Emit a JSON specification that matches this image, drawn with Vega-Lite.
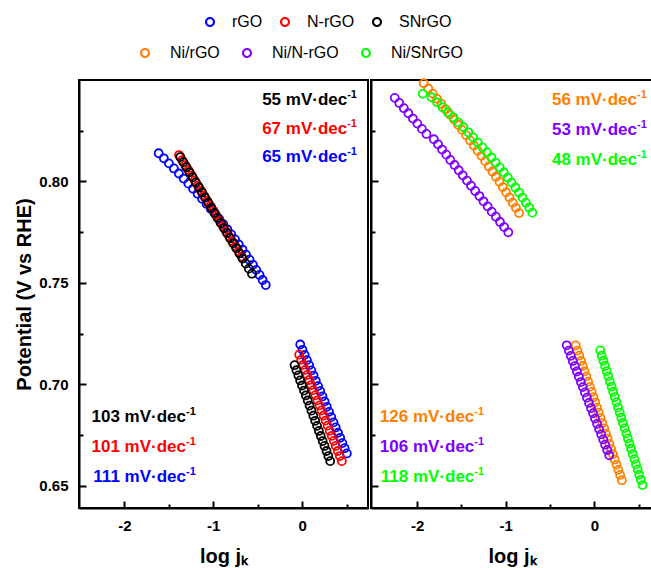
{
  "$schema": "https://vega.github.io/schema/vega-lite/v6.json",
  "background": "white",
  "padding": {"left": 13, "top": 14, "right": 0, "bottom": 0},
  "spacing": 0,
  "config": {
    "font": "Liberation Sans",
    "view": {"stroke": "black", "strokeWidth": 2},
    "axis": {
      "domainColor": "black", "domainWidth": 2, "tickColor": "black", "tickWidth": 2, "grid": false,
      "labelFont": "Liberation Sans", "labelFontWeight": "bold", "labelFontSize": 15, "labelColor": "black",
      "titleFont": "Liberation Sans", "titleFontWeight": "bold", "titleFontSize": 20, "titleColor": "black"
    },
    "legend": {
      "orient": "none", "direction": "horizontal", "title": null,
      "labelFont": "Liberation Sans", "labelFontSize": 16, "labelColor": "black",
      "symbolType": "M -1 0 A 1 1 0 1 0 1 0 A 1 1 0 1 0 -1 0 Z M -0.58 0 A 0.58 0.58 0 1 1 0.58 0 A 0.58 0.58 0 1 1 -0.58 0 Z",
      "symbolSize": 100, "symbolStrokeWidth": 0,
      "padding": 0
    }
  },
  "datasets": {
    "left": [
      {"s":"rGO","x":-1.614,"y":0.8139},{"s":"rGO","x":-1.556,"y":0.8114},{"s":"rGO","x":-1.499,"y":0.8089},{"s":"rGO","x":-1.443,"y":0.8064},{"s":"rGO","x":-1.387,"y":0.8039},{"s":"rGO","x":-1.333,"y":0.8014},{"s":"rGO","x":-1.280,"y":0.7989},{"s":"rGO","x":-1.227,"y":0.7964},{"s":"rGO","x":-1.176,"y":0.7939},{"s":"rGO","x":-1.125,"y":0.7914},{"s":"rGO","x":-1.075,"y":0.7889},{"s":"rGO","x":-1.027,"y":0.7864},{"s":"rGO","x":-0.979,"y":0.7839},{"s":"rGO","x":-0.932,"y":0.7814},{"s":"rGO","x":-0.887,"y":0.7789},{"s":"rGO","x":-0.842,"y":0.7764},{"s":"rGO","x":-0.798,"y":0.7739},{"s":"rGO","x":-0.755,"y":0.7714},{"s":"rGO","x":-0.713,"y":0.7689},{"s":"rGO","x":-0.672,"y":0.7664},{"s":"rGO","x":-0.632,"y":0.7639},{"s":"rGO","x":-0.592,"y":0.7614},{"s":"rGO","x":-0.554,"y":0.7589},{"s":"rGO","x":-0.517,"y":0.7564},{"s":"rGO","x":-0.480,"y":0.7539},{"s":"rGO","x":-0.445,"y":0.7514},{"s":"rGO","x":-0.410,"y":0.7489},
      {"s":"rGO","x":-0.022,"y":0.7196},{"s":"rGO","x":0.003,"y":0.7170},{"s":"rGO","x":0.028,"y":0.7145},{"s":"rGO","x":0.053,"y":0.7119},{"s":"rGO","x":0.078,"y":0.7094},{"s":"rGO","x":0.103,"y":0.7068},{"s":"rGO","x":0.128,"y":0.7043},{"s":"rGO","x":0.153,"y":0.7017},{"s":"rGO","x":0.178,"y":0.6991},{"s":"rGO","x":0.203,"y":0.6966},{"s":"rGO","x":0.228,"y":0.6940},{"s":"rGO","x":0.252,"y":0.6915},{"s":"rGO","x":0.277,"y":0.6889},{"s":"rGO","x":0.302,"y":0.6864},{"s":"rGO","x":0.327,"y":0.6838},{"s":"rGO","x":0.352,"y":0.6812},{"s":"rGO","x":0.377,"y":0.6787},{"s":"rGO","x":0.402,"y":0.6761},{"s":"rGO","x":0.427,"y":0.6736},{"s":"rGO","x":0.452,"y":0.6710},{"s":"rGO","x":0.477,"y":0.6685},{"s":"rGO","x":0.502,"y":0.6659},
      {"s":"N-rGO","x":-1.385,"y":0.8130},{"s":"N-rGO","x":-1.350,"y":0.8105},{"s":"N-rGO","x":-1.315,"y":0.8080},{"s":"N-rGO","x":-1.279,"y":0.8055},{"s":"N-rGO","x":-1.244,"y":0.8030},{"s":"N-rGO","x":-1.209,"y":0.8005},{"s":"N-rGO","x":-1.174,"y":0.7980},{"s":"N-rGO","x":-1.139,"y":0.7955},{"s":"N-rGO","x":-1.103,"y":0.7930},{"s":"N-rGO","x":-1.068,"y":0.7905},{"s":"N-rGO","x":-1.033,"y":0.7880},{"s":"N-rGO","x":-0.998,"y":0.7855},{"s":"N-rGO","x":-0.963,"y":0.7830},{"s":"N-rGO","x":-0.927,"y":0.7805},{"s":"N-rGO","x":-0.892,"y":0.7780},{"s":"N-rGO","x":-0.857,"y":0.7755},{"s":"N-rGO","x":-0.822,"y":0.7730},{"s":"N-rGO","x":-0.787,"y":0.7705},{"s":"N-rGO","x":-0.751,"y":0.7680},{"s":"N-rGO","x":-0.716,"y":0.7655},{"s":"N-rGO","x":-0.681,"y":0.7630},
      {"s":"N-rGO","x":-0.034,"y":0.7146},{"s":"N-rGO","x":-0.011,"y":0.7121},{"s":"N-rGO","x":0.012,"y":0.7096},{"s":"N-rGO","x":0.035,"y":0.7071},{"s":"N-rGO","x":0.057,"y":0.7046},{"s":"N-rGO","x":0.080,"y":0.7021},{"s":"N-rGO","x":0.103,"y":0.6996},{"s":"N-rGO","x":0.126,"y":0.6971},{"s":"N-rGO","x":0.149,"y":0.6946},{"s":"N-rGO","x":0.172,"y":0.6921},{"s":"N-rGO","x":0.195,"y":0.6896},{"s":"N-rGO","x":0.217,"y":0.6871},{"s":"N-rGO","x":0.240,"y":0.6846},{"s":"N-rGO","x":0.263,"y":0.6821},{"s":"N-rGO","x":0.286,"y":0.6796},{"s":"N-rGO","x":0.309,"y":0.6771},{"s":"N-rGO","x":0.332,"y":0.6746},{"s":"N-rGO","x":0.355,"y":0.6721},{"s":"N-rGO","x":0.377,"y":0.6696},{"s":"N-rGO","x":0.400,"y":0.6671},{"s":"N-rGO","x":0.423,"y":0.6646},{"s":"N-rGO","x":0.446,"y":0.6621},
      {"s":"SNrGO","x":-1.371,"y":0.8120},{"s":"SNrGO","x":-1.336,"y":0.8095},{"s":"SNrGO","x":-1.301,"y":0.8070},{"s":"SNrGO","x":-1.266,"y":0.8045},{"s":"SNrGO","x":-1.231,"y":0.8020},{"s":"SNrGO","x":-1.196,"y":0.7995},{"s":"SNrGO","x":-1.161,"y":0.7970},{"s":"SNrGO","x":-1.126,"y":0.7945},{"s":"SNrGO","x":-1.091,"y":0.7920},{"s":"SNrGO","x":-1.056,"y":0.7895},{"s":"SNrGO","x":-1.021,"y":0.7870},{"s":"SNrGO","x":-0.986,"y":0.7845},{"s":"SNrGO","x":-0.951,"y":0.7820},{"s":"SNrGO","x":-0.916,"y":0.7795},{"s":"SNrGO","x":-0.880,"y":0.7770},{"s":"SNrGO","x":-0.845,"y":0.7745},{"s":"SNrGO","x":-0.810,"y":0.7720},{"s":"SNrGO","x":-0.775,"y":0.7695},{"s":"SNrGO","x":-0.740,"y":0.7670},{"s":"SNrGO","x":-0.705,"y":0.7645},{"s":"SNrGO","x":-0.670,"y":0.7620},{"s":"SNrGO","x":-0.635,"y":0.7595},{"s":"SNrGO","x":-0.600,"y":0.7570},{"s":"SNrGO","x":-0.565,"y":0.7545},
      {"s":"SNrGO","x":-0.086,"y":0.7094},{"s":"SNrGO","x":-0.065,"y":0.7069},{"s":"SNrGO","x":-0.044,"y":0.7044},{"s":"SNrGO","x":-0.023,"y":0.7019},{"s":"SNrGO","x":-0.002,"y":0.6994},{"s":"SNrGO","x":0.020,"y":0.6969},{"s":"SNrGO","x":0.041,"y":0.6945},{"s":"SNrGO","x":0.062,"y":0.6920},{"s":"SNrGO","x":0.083,"y":0.6895},{"s":"SNrGO","x":0.104,"y":0.6870},{"s":"SNrGO","x":0.125,"y":0.6845},{"s":"SNrGO","x":0.146,"y":0.6820},{"s":"SNrGO","x":0.167,"y":0.6795},{"s":"SNrGO","x":0.188,"y":0.6770},{"s":"SNrGO","x":0.209,"y":0.6745},{"s":"SNrGO","x":0.230,"y":0.6720},{"s":"SNrGO","x":0.251,"y":0.6696},{"s":"SNrGO","x":0.273,"y":0.6671},{"s":"SNrGO","x":0.294,"y":0.6646},{"s":"SNrGO","x":0.315,"y":0.6621}
    ],
    "right": [
      {"s":"Ni/rGO","x":-1.925,"y":0.8484},{"s":"Ni/rGO","x":-1.874,"y":0.8458},{"s":"Ni/rGO","x":-1.824,"y":0.8433},{"s":"Ni/rGO","x":-1.775,"y":0.8407},{"s":"Ni/rGO","x":-1.726,"y":0.8382},{"s":"Ni/rGO","x":-1.678,"y":0.8356},{"s":"Ni/rGO","x":-1.631,"y":0.8330},{"s":"Ni/rGO","x":-1.584,"y":0.8305},{"s":"Ni/rGO","x":-1.538,"y":0.8279},{"s":"Ni/rGO","x":-1.492,"y":0.8254},{"s":"Ni/rGO","x":-1.447,"y":0.8228},{"s":"Ni/rGO","x":-1.403,"y":0.8202},{"s":"Ni/rGO","x":-1.360,"y":0.8177},{"s":"Ni/rGO","x":-1.317,"y":0.8151},{"s":"Ni/rGO","x":-1.274,"y":0.8126},{"s":"Ni/rGO","x":-1.233,"y":0.8100},{"s":"Ni/rGO","x":-1.192,"y":0.8074},{"s":"Ni/rGO","x":-1.151,"y":0.8049},{"s":"Ni/rGO","x":-1.111,"y":0.8023},{"s":"Ni/rGO","x":-1.072,"y":0.7998},{"s":"Ni/rGO","x":-1.034,"y":0.7972},{"s":"Ni/rGO","x":-0.996,"y":0.7946},{"s":"Ni/rGO","x":-0.959,"y":0.7921},{"s":"Ni/rGO","x":-0.922,"y":0.7895},{"s":"Ni/rGO","x":-0.886,"y":0.7870},{"s":"Ni/rGO","x":-0.851,"y":0.7844},
      {"s":"Ni/rGO","x":-0.211,"y":0.7192},{"s":"Ni/rGO","x":-0.191,"y":0.7166},{"s":"Ni/rGO","x":-0.171,"y":0.7141},{"s":"Ni/rGO","x":-0.151,"y":0.7115},{"s":"Ni/rGO","x":-0.131,"y":0.7090},{"s":"Ni/rGO","x":-0.111,"y":0.7064},{"s":"Ni/rGO","x":-0.091,"y":0.7039},{"s":"Ni/rGO","x":-0.071,"y":0.7013},{"s":"Ni/rGO","x":-0.051,"y":0.6987},{"s":"Ni/rGO","x":-0.031,"y":0.6962},{"s":"Ni/rGO","x":-0.011,"y":0.6936},{"s":"Ni/rGO","x":0.009,"y":0.6911},{"s":"Ni/rGO","x":0.029,"y":0.6885},{"s":"Ni/rGO","x":0.049,"y":0.6860},{"s":"Ni/rGO","x":0.069,"y":0.6834},{"s":"Ni/rGO","x":0.089,"y":0.6808},{"s":"Ni/rGO","x":0.109,"y":0.6783},{"s":"Ni/rGO","x":0.129,"y":0.6757},{"s":"Ni/rGO","x":0.149,"y":0.6732},{"s":"Ni/rGO","x":0.169,"y":0.6706},{"s":"Ni/rGO","x":0.189,"y":0.6680},{"s":"Ni/rGO","x":0.209,"y":0.6655},{"s":"Ni/rGO","x":0.229,"y":0.6629},{"s":"Ni/rGO","x":0.249,"y":0.6604},{"s":"Ni/rGO","x":0.269,"y":0.6578},{"s":"Ni/rGO","x":0.289,"y":0.6553},{"s":"Ni/rGO","x":0.309,"y":0.6527},
      {"s":"Ni/N-rGO","x":-2.252,"y":0.8412},{"s":"Ni/N-rGO","x":-2.201,"y":0.8387},{"s":"Ni/N-rGO","x":-2.150,"y":0.8361},{"s":"Ni/N-rGO","x":-2.099,"y":0.8336},{"s":"Ni/N-rGO","x":-2.048,"y":0.8310},{"s":"Ni/N-rGO","x":-1.997,"y":0.8285},{"s":"Ni/N-rGO","x":-1.946,"y":0.8259},{"s":"Ni/N-rGO","x":-1.895,"y":0.8234},{"s":"Ni/N-rGO","x":-1.811,"y":0.8208},{"s":"Ni/N-rGO","x":-1.764,"y":0.8183},{"s":"Ni/N-rGO","x":-1.718,"y":0.8157},{"s":"Ni/N-rGO","x":-1.671,"y":0.8132},{"s":"Ni/N-rGO","x":-1.625,"y":0.8106},{"s":"Ni/N-rGO","x":-1.578,"y":0.8081},{"s":"Ni/N-rGO","x":-1.531,"y":0.8055},{"s":"Ni/N-rGO","x":-1.485,"y":0.8030},{"s":"Ni/N-rGO","x":-1.438,"y":0.8004},{"s":"Ni/N-rGO","x":-1.392,"y":0.7979},{"s":"Ni/N-rGO","x":-1.345,"y":0.7953},{"s":"Ni/N-rGO","x":-1.298,"y":0.7928},{"s":"Ni/N-rGO","x":-1.252,"y":0.7902},{"s":"Ni/N-rGO","x":-1.205,"y":0.7877},{"s":"Ni/N-rGO","x":-1.159,"y":0.7851},{"s":"Ni/N-rGO","x":-1.112,"y":0.7826},{"s":"Ni/N-rGO","x":-1.065,"y":0.7800},{"s":"Ni/N-rGO","x":-1.019,"y":0.7775},{"s":"Ni/N-rGO","x":-0.972,"y":0.7749},
      {"s":"Ni/N-rGO","x":-0.313,"y":0.7192},{"s":"Ni/N-rGO","x":-0.290,"y":0.7166},{"s":"Ni/N-rGO","x":-0.267,"y":0.7140},{"s":"Ni/N-rGO","x":-0.245,"y":0.7115},{"s":"Ni/N-rGO","x":-0.222,"y":0.7089},{"s":"Ni/N-rGO","x":-0.199,"y":0.7063},{"s":"Ni/N-rGO","x":-0.176,"y":0.7037},{"s":"Ni/N-rGO","x":-0.153,"y":0.7011},{"s":"Ni/N-rGO","x":-0.131,"y":0.6986},{"s":"Ni/N-rGO","x":-0.108,"y":0.6960},{"s":"Ni/N-rGO","x":-0.085,"y":0.6934},{"s":"Ni/N-rGO","x":-0.062,"y":0.6908},{"s":"Ni/N-rGO","x":-0.039,"y":0.6882},{"s":"Ni/N-rGO","x":-0.016,"y":0.6857},{"s":"Ni/N-rGO","x":0.006,"y":0.6831},{"s":"Ni/N-rGO","x":0.029,"y":0.6805},{"s":"Ni/N-rGO","x":0.052,"y":0.6779},{"s":"Ni/N-rGO","x":0.075,"y":0.6753},{"s":"Ni/N-rGO","x":0.098,"y":0.6728},{"s":"Ni/N-rGO","x":0.120,"y":0.6702},{"s":"Ni/N-rGO","x":0.143,"y":0.6676},{"s":"Ni/N-rGO","x":0.166,"y":0.6650},
      {"s":"Ni/SNrGO","x":-1.936,"y":0.8432},{"s":"Ni/SNrGO","x":-1.838,"y":0.8415},{"s":"Ni/SNrGO","x":-1.775,"y":0.8390},{"s":"Ni/SNrGO","x":-1.713,"y":0.8365},{"s":"Ni/SNrGO","x":-1.653,"y":0.8341},{"s":"Ni/SNrGO","x":-1.593,"y":0.8316},{"s":"Ni/SNrGO","x":-1.535,"y":0.8291},{"s":"Ni/SNrGO","x":-1.478,"y":0.8267},{"s":"Ni/SNrGO","x":-1.423,"y":0.8242},{"s":"Ni/SNrGO","x":-1.368,"y":0.8217},{"s":"Ni/SNrGO","x":-1.315,"y":0.8192},{"s":"Ni/SNrGO","x":-1.263,"y":0.8168},{"s":"Ni/SNrGO","x":-1.213,"y":0.8143},{"s":"Ni/SNrGO","x":-1.163,"y":0.8118},{"s":"Ni/SNrGO","x":-1.115,"y":0.8093},{"s":"Ni/SNrGO","x":-1.068,"y":0.8069},{"s":"Ni/SNrGO","x":-1.022,"y":0.8044},{"s":"Ni/SNrGO","x":-0.978,"y":0.8019},{"s":"Ni/SNrGO","x":-0.935,"y":0.7994},{"s":"Ni/SNrGO","x":-0.893,"y":0.7970},{"s":"Ni/SNrGO","x":-0.852,"y":0.7945},{"s":"Ni/SNrGO","x":-0.812,"y":0.7920},{"s":"Ni/SNrGO","x":-0.774,"y":0.7895},{"s":"Ni/SNrGO","x":-0.737,"y":0.7871},{"s":"Ni/SNrGO","x":-0.701,"y":0.7846},
      {"s":"Ni/SNrGO","x":0.064,"y":0.7167},{"s":"Ni/SNrGO","x":0.082,"y":0.7141},{"s":"Ni/SNrGO","x":0.101,"y":0.7116},{"s":"Ni/SNrGO","x":0.119,"y":0.7090},{"s":"Ni/SNrGO","x":0.138,"y":0.7065},{"s":"Ni/SNrGO","x":0.156,"y":0.7039},{"s":"Ni/SNrGO","x":0.174,"y":0.7014},{"s":"Ni/SNrGO","x":0.193,"y":0.6988},{"s":"Ni/SNrGO","x":0.211,"y":0.6963},{"s":"Ni/SNrGO","x":0.229,"y":0.6937},{"s":"Ni/SNrGO","x":0.248,"y":0.6912},{"s":"Ni/SNrGO","x":0.266,"y":0.6886},{"s":"Ni/SNrGO","x":0.285,"y":0.6861},{"s":"Ni/SNrGO","x":0.303,"y":0.6835},{"s":"Ni/SNrGO","x":0.321,"y":0.6809},{"s":"Ni/SNrGO","x":0.340,"y":0.6784},{"s":"Ni/SNrGO","x":0.358,"y":0.6758},{"s":"Ni/SNrGO","x":0.376,"y":0.6733},{"s":"Ni/SNrGO","x":0.395,"y":0.6707},{"s":"Ni/SNrGO","x":0.413,"y":0.6682},{"s":"Ni/SNrGO","x":0.431,"y":0.6656},{"s":"Ni/SNrGO","x":0.450,"y":0.6631},{"s":"Ni/SNrGO","x":0.468,"y":0.6605},{"s":"Ni/SNrGO","x":0.487,"y":0.6580},{"s":"Ni/SNrGO","x":0.505,"y":0.6554},{"s":"Ni/SNrGO","x":0.523,"y":0.6529},{"s":"Ni/SNrGO","x":0.542,"y":0.6503}
    ],
    "annL": [
      {"s":"SNrGO","t":"55 mV·dec","sup":"-1","x":0.506,"y":0.8378},
      {"s":"N-rGO","t":"67 mV·dec","sup":"-1","x":0.506,"y":0.8235},
      {"s":"rGO","t":"65 mV·dec","sup":"-1","x":0.506,"y":0.8095},
      {"s":"SNrGO","t":"103 mV·dec","sup":"-1","x":-1.307,"y":0.6814},
      {"s":"N-rGO","t":"101 mV·dec","sup":"-1","x":-1.307,"y":0.6667},
      {"s":"rGO","t":"111 mV·dec","sup":"-1","x":-1.307,"y":0.6519}
    ],
    "annR": [
      {"s":"Ni/rGO","t":"56 mV·dec","sup":"-1","x":0.48,"y":0.8378},
      {"s":"Ni/N-rGO","t":"53 mV·dec","sup":"-1","x":0.48,"y":0.8227},
      {"s":"Ni/SNrGO","t":"48 mV·dec","sup":"-1","x":0.48,"y":0.8082},
      {"s":"Ni/rGO","t":"126 mV·dec","sup":"-1","x":-1.355,"y":0.6814},
      {"s":"Ni/N-rGO","t":"106 mV·dec","sup":"-1","x":-1.355,"y":0.6667},
      {"s":"Ni/SNrGO","t":"118 mV·dec","sup":"-1","x":-1.355,"y":0.6519}
    ]
  },
  "hconcat": [
    {
      "width": 289,
      "height": 428,
      "encoding": {
        "x": {"field": "x", "type": "quantitative", "scale": {"domain": [-2.51, 0.74], "nice": false, "zero": false},
          "axis": {"values": [-2, -1.5, -1, -0.5, 0, 0.5], "tickSize": {"condition": {"test": "datum.value % 1 === 0", "value": -7}, "value": -4},
            "labelExpr": "datum.value % 1 === 0 ? '' + datum.value : ''", "labelPadding": 17, "title": "log jₖ", "titlePadding": 13}},
        "y": {"field": "y", "type": "quantitative", "scale": {"domain": [0.639, 0.85], "nice": false, "zero": false},
          "axis": {"values": [0.65, 0.675, 0.7, 0.725, 0.75, 0.775, 0.8, 0.825], "format": ".2f",
            "tickSize": {"condition": {"test": "round(datum.value * 1000) % 50 === 0", "value": -7}, "value": -4},
            "labelExpr": "round(datum.value * 1000) % 50 === 0 ? datum.label : ''", "labelPadding": 18, "title": "Potential (V vs RHE)", "titlePadding": 4}}
      },
      "layer": [
        {
          "data": {"name": "left"},
          "mark": {"type": "point", "filled": false, "size": 64, "strokeWidth": 1.8, "opacity": 1},
          "encoding": {
            "color": {"field": "s", "type": "nominal", "scale": {"domain": ["rGO", "N-rGO", "SNrGO"], "range": ["#0000FF", "#FF0000", "#000000"]},
              "legend": {"legendX": 123, "legendY": -66, "labelOffset": 14, "columnPadding": 14}}
          }
        },
        {
          "data": {"name": "annL"},
          "mark": {"type": "text", "align": "right", "baseline": "alphabetic", "fontSize": 17, "fontWeight": "bold", "font": "Liberation Sans"},
          "encoding": {"text": {"field": "t"}, "color": {"field": "s", "type": "nominal", "legend": null}}
        },
        {
          "data": {"name": "annL"},
          "mark": {"type": "text", "align": "left", "baseline": "alphabetic", "fontSize": 11, "fontWeight": "bold", "dy": -7, "font": "Liberation Sans"},
          "encoding": {"text": {"field": "sup"}, "color": {"field": "s", "type": "nominal", "legend": null}}
        }
      ]
    },
    {
      "width": 282,
      "height": 428,
      "encoding": {
        "x": {"field": "x", "type": "quantitative", "scale": {"domain": [-2.52, 0.66], "nice": false, "zero": false},
          "axis": {"values": [-2, -1.5, -1, -0.5, 0, 0.5], "tickSize": {"condition": {"test": "datum.value % 1 === 0", "value": -7}, "value": -4},
            "labelExpr": "datum.value % 1 === 0 ? '' + datum.value : ''", "labelPadding": 17, "title": "log jₖ", "titlePadding": 13}},
        "y": {"field": "y", "type": "quantitative", "scale": {"domain": [0.639, 0.85], "nice": false, "zero": false},
          "axis": {"values": [0.65, 0.675, 0.7, 0.725, 0.75, 0.775, 0.8, 0.825],
            "tickSize": {"condition": {"test": "round(datum.value * 1000) % 50 === 0", "value": -7}, "value": -4},
            "labels": false, "title": null}}
      },
      "layer": [
        {
          "data": {"name": "right"},
          "mark": {"type": "point", "filled": false, "size": 64, "strokeWidth": 1.8, "opacity": 1},
          "encoding": {
            "stroke": {"field": "s", "type": "nominal", "scale": {"domain": ["Ni/rGO", "Ni/N-rGO", "Ni/SNrGO"], "range": ["#FF8000", "#8000FF", "#00FF00"]},
              "legend": {"legendX": 58, "legendY": -35, "labelOffset": 17, "columnPadding": 19}}
          }
        },
        {
          "data": {"name": "annR"},
          "mark": {"type": "text", "align": "right", "baseline": "alphabetic", "fontSize": 17, "fontWeight": "bold", "font": "Liberation Sans"},
          "encoding": {"text": {"field": "t"}, "fill": {"field": "s", "type": "nominal", "scale": {"domain": ["Ni/rGO", "Ni/N-rGO", "Ni/SNrGO"], "range": ["#FF8000", "#8000FF", "#00FF00"]}, "legend": null}}
        },
        {
          "data": {"name": "annR"},
          "mark": {"type": "text", "align": "left", "baseline": "alphabetic", "fontSize": 11, "fontWeight": "bold", "dy": -7, "font": "Liberation Sans"},
          "encoding": {"text": {"field": "sup"}, "fill": {"field": "s", "type": "nominal", "legend": null}}
        }
      ]
    }
  ]
}
